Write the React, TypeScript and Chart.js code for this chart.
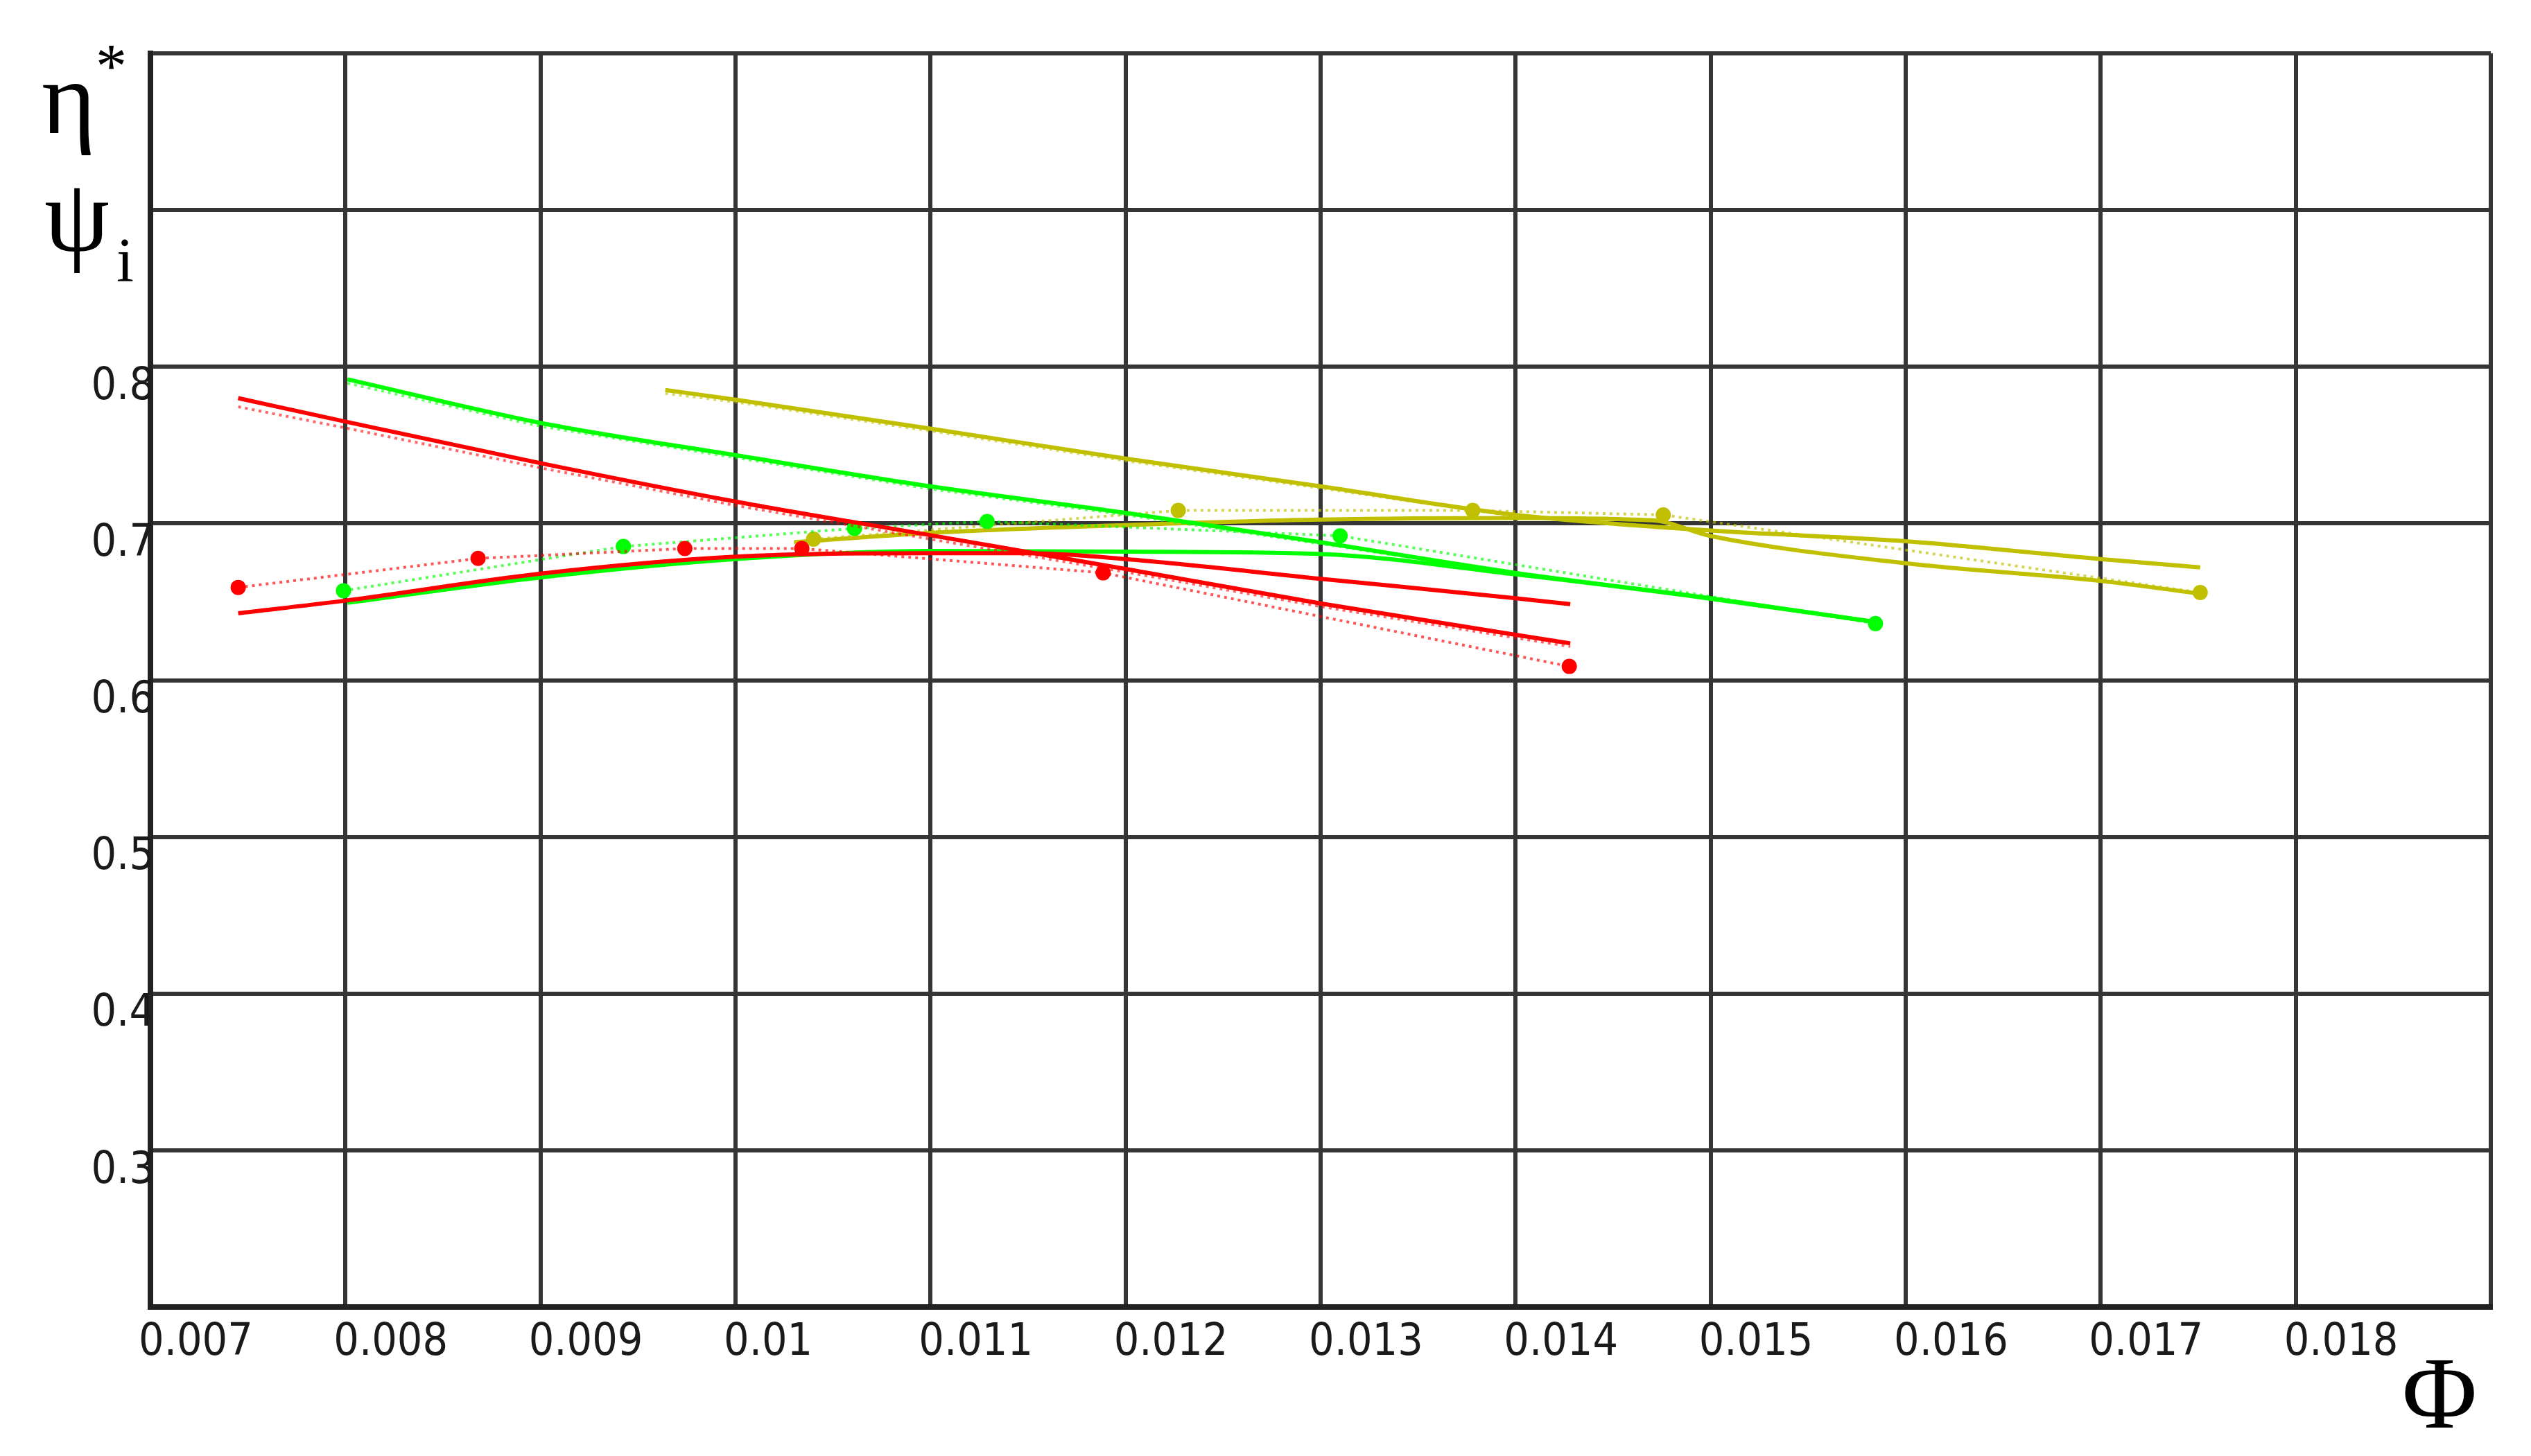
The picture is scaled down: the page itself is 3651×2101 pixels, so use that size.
import React, { useEffect, useRef } from "react";
import { Chart, registerables } from "chart.js";

Chart.register(...registerables);

// ---------- data (Φ on x, η* / ψi on y) ----------
// red set
const redPsiCalcX = [0.00745, 0.008, 0.009, 0.010, 0.011, 0.012, 0.013, 0.014, 0.01428];
const redPsiCalcY = [0.780, 0.765, 0.7385, 0.714, 0.6925, 0.671, 0.649, 0.629, 0.6235];
const redPsiExpY = [0.7745, 0.761, 0.7355, 0.7115, 0.690, 0.669, 0.647, 0.627, 0.6215];
const redEtaCalcX = [0.00745, 0.008, 0.009, 0.010, 0.011, 0.0115, 0.012, 0.013, 0.014, 0.01428];
const redEtaCalcY = [0.6427, 0.6508, 0.668, 0.6788, 0.681, 0.681, 0.6773, 0.6647, 0.6523, 0.6485];
const redEtaExpX = [0.00745, 0.00868, 0.00974, 0.01034, 0.011885, 0.014275];
const redEtaExpY = [0.6592, 0.6777, 0.684, 0.684, 0.6685, 0.6088];

// green set
const greenPsiCalcX = [0.00801, 0.009, 0.010, 0.011, 0.012, 0.013, 0.014, 0.015, 0.01585];
const greenPsiCalcY = [0.792, 0.7642, 0.7436, 0.7237, 0.7068, 0.688, 0.6685, 0.6523, 0.637];
const greenPsiExpY = [0.7895, 0.762, 0.742, 0.722, 0.7055, 0.687, 0.668, 0.652, 0.637];
const greenEtaCalcX = [0.00801, 0.009, 0.010, 0.011, 0.012, 0.013, 0.014, 0.015, 0.01585];
const greenEtaCalcY = [0.6494, 0.6656, 0.6773, 0.6825, 0.682, 0.6805, 0.6675, 0.652, 0.637];
const greenEtaExpX = [0.00799, 0.009425, 0.01061, 0.01129, 0.0131, 0.015845];
const greenEtaExpY = [0.6571, 0.6853, 0.6969, 0.7013, 0.6921, 0.6361];

// olive set
const olivePsiCalcX = [0.00964, 0.010, 0.011, 0.012, 0.013, 0.014, 0.015, 0.016, 0.017, 0.01751];
const olivePsiCalcY = [0.7852, 0.779, 0.7605, 0.7414, 0.7237, 0.7055, 0.6955, 0.6887, 0.6773, 0.672];
const olivePsiExpY = [0.783, 0.7775, 0.759, 0.740, 0.7225, 0.7045, 0.695, 0.6885, 0.677, 0.6715];
const oliveEtaCalcX = [0.0103, 0.011, 0.012, 0.013, 0.014, 0.0147, 0.015, 0.016, 0.017, 0.01751];
const oliveEtaCalcY = [0.688, 0.694, 0.699, 0.7025, 0.7035, 0.702, 0.692, 0.6746, 0.6633, 0.6552];
const oliveEtaExpX = [0.0104, 0.01227, 0.01378, 0.014757, 0.01751];
const oliveEtaExpY = [0.690, 0.7083, 0.7083, 0.7055, 0.6559];

// axes
const X_MIN = 0.007;
const X_MAX = 0.019;
const X_STEP = 0.001;
const Y_MIN = 0.2;
const Y_MAX = 1.0;
const Y_STEP = 0.1;
const Y_LABELLED = [0.3, 0.4, 0.5, 0.6, 0.7, 0.8];
const X_LAST_LABEL = 0.018;

const RED = "#ff0000";
const GREEN = "#00ff00";
const OLIVE = "#c0c000";

const pts = (xs: number[], ys: number[]) => xs.map((x, i) => ({ x, y: ys[i] }));

const solid = (label: string, xs: number[], ys: number[], color: string) => ({
  label,
  data: pts(xs, ys),
  showLine: true,
  borderColor: color,
  backgroundColor: color,
  borderWidth: 6,
  pointRadius: 0,
  cubicInterpolationMode: "monotone",
});

const dotted = (label: string, xs: number[], ys: number[], color: string, alpha: string, markers: boolean) => ({
  label,
  data: pts(xs, ys),
  showLine: true,
  borderColor: color + alpha,
  backgroundColor: color,
  borderWidth: 4,
  borderDash: [4, 6],
  pointRadius: markers ? 11 : 0,
  pointBorderWidth: 0,
  pointBackgroundColor: color,
  tension: 0,
});

const titlesPlugin = {
  id: "titles",
  afterDraw(chart: any) {
    const ctx = chart.ctx;
    ctx.save();
    ctx.fillStyle = "#000";
    ctx.textAlign = "left";
    ctx.textBaseline = "alphabetic";
    ctx.font = "150px 'Liberation Serif', 'Times New Roman', serif";
    ctx.fillText("η", 60, 192);
    ctx.fillText("ψ", 64, 362);
    ctx.font = "90px 'Liberation Serif', 'Times New Roman', serif";
    ctx.fillText("*", 138, 126);
    ctx.fillText("i", 168, 406);
    ctx.font = "148px 'Liberation Serif', 'Times New Roman', serif";
    ctx.textAlign = "center";
    ctx.fillText("Φ", 3519, 2060);
    ctx.restore();
  },
};

export default function App() {
  const ref = useRef<HTMLCanvasElement>(null);

  useEffect(() => {
    if (!ref.current) return;
    const tickFont = { family: "'Liberation Sans Narrow', 'DejaVu Sans Condensed', 'Arial Narrow', sans-serif", size: 64 };
    const chart = new Chart(ref.current, {
      type: "scatter",
      data: {
        datasets: [
          solid("ψ calc red", redPsiCalcX, redPsiCalcY, RED),
          dotted("ψ exp red", redPsiCalcX, redPsiExpY, RED, "99", false),
          solid("η calc red", redEtaCalcX, redEtaCalcY, RED),
          dotted("η exp red", redEtaExpX, redEtaExpY, RED, "aa", true),
          solid("ψ calc green", greenPsiCalcX, greenPsiCalcY, GREEN),
          dotted("ψ exp green", greenPsiCalcX, greenPsiExpY, GREEN, "99", false),
          solid("η calc green", greenEtaCalcX, greenEtaCalcY, GREEN),
          dotted("η exp green", greenEtaExpX, greenEtaExpY, GREEN, "aa", true),
          solid("ψ calc olive", olivePsiCalcX, olivePsiCalcY, OLIVE),
          dotted("ψ exp olive", olivePsiCalcX, olivePsiExpY, OLIVE, "99", false),
          solid("η calc olive", oliveEtaCalcX, oliveEtaCalcY, OLIVE),
          dotted("η exp olive", oliveEtaExpX, oliveEtaExpY, OLIVE, "aa", true),
        ] as any,
      },
      options: {
        animation: false,
        responsive: false,
        layout: { padding: { left: 0, top: 77, right: 58, bottom: 0 } },
        plugins: { legend: { display: false }, tooltip: { enabled: false } },
        scales: {
          x: {
            type: "linear",
            min: X_MIN,
            max: X_MAX,
            afterFit: (s: any) => { s.height = 215; },
            afterBuildTicks: (s: any) => {
              const t = [];
              for (let i = 0; i <= Math.round((X_MAX - X_MIN) / X_STEP); i++) t.push({ value: +(X_MIN + i * X_STEP).toFixed(4) });
              s.ticks = t;
            },
            grid: { color: "#353535", lineWidth: 6, drawTicks: false },
            border: { color: "#222", width: 8 },
            ticks: {
              font: tickFont,
              color: "#1a1a1a",
              align: "start",
              labelOffset: -17,
              padding: 14,
              maxRotation: 0,
              autoSkip: false,
              callback: (v: any) => (v <= X_LAST_LABEL + 1e-6 ? String(parseFloat(Number(v).toFixed(3))) : ""),
            },
          },
          y: {
            type: "linear",
            min: Y_MIN,
            max: Y_MAX,
            afterFit: (s: any) => { s.width = 217; },
            afterBuildTicks: (s: any) => {
              const t = [];
              for (let i = 0; i <= Math.round((Y_MAX - Y_MIN) / Y_STEP); i++) t.push({ value: +(Y_MIN + i * Y_STEP).toFixed(2) });
              s.ticks = t;
            },
            grid: { color: "#353535", lineWidth: 6, drawTicks: false },
            border: { color: "#222", width: 8 },
            ticks: {
              font: tickFont,
              color: "#1a1a1a",
              padding: -6,
              labelOffset: 30,
              autoSkip: false,
              callback: (v: any) => {
                const r = Math.round(Number(v) * 10) / 10;
                return Y_LABELLED.includes(r) ? r.toFixed(1) : "";
              },
            },
          },
        },
      } as any,
      plugins: [titlesPlugin],
    });
    return () => chart.destroy();
  }, []);

  return (
    <div style={{ position: "fixed", left: 0, top: 0, width: 3651, height: 2101, background: "#fff" }}>
      <canvas ref={ref} width={3651} height={2101} style={{ display: "block" }} />
    </div>
  );
}
